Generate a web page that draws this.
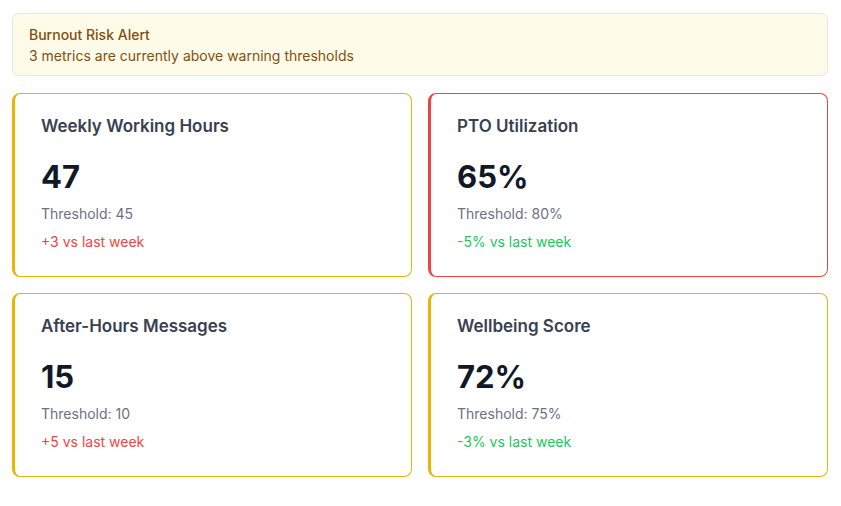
<!DOCTYPE html>
<html><head><meta charset="utf-8">
<script src="https://cdn.jsdelivr.net/npm/chart.js@4"></script>
<style>
*{box-sizing:border-box}
body{margin:0;width:841px;height:506px;background:#fff;font-family:Inter,"Noto Sans",sans-serif;}
.alert{position:absolute;left:12px;top:13px;width:816px;height:63px;background:#fefce8;border:1px solid #e5e7eb;border-radius:6px;padding:10px 16px;color:#854d0e;font-size:14px;line-height:21px}
.alert .t{font-weight:500}
.card{position:absolute;width:400px;height:184px;border:1px solid;border-left-width:3px;border-radius:8px;padding:0 26px;background:#fff}
.card h3{margin:0;position:absolute;top:22px;font-size:17px;font-weight:600;color:#374151}
.card .v{position:absolute;top:64px;font-size:31px;font-weight:700;color:#111827}
.card .th{position:absolute;top:111px;font-size:14px;color:#6b7280}
.card .ch{position:absolute;top:139px;font-size:14px}
</style></head><body>
<div class="alert"><div class="t">Burnout Risk Alert</div><div id="sub"></div></div>
<div id="cards"></div>
<script>
const titles=["Weekly Working Hours","PTO Utilization","After-Hours Messages","Wellbeing Score"];
const values=["47","65%","15","72%"];
const thresholds=["45","80%","10","75%"];
const changes=["+3","-5%","+5","-3%"];
const statuses=["warning","critical","warning","warning"];
const alertCount=3;
document.getElementById('sub').textContent=alertCount+" metrics are currently above warning thresholds";
const pos=[[12,93],[428,93],[12,293],[428,293]];
const border={warning:"#eab308",critical:"#ef4444"};
const c=document.getElementById('cards');
titles.forEach((t,i)=>{
 const d=document.createElement('div');d.className='card';
 d.style.left=pos[i][0]+'px';d.style.top=pos[i][1]+'px';d.style.borderColor=border[statuses[i]];
 const up=changes[i][0]==='+';
 d.innerHTML=`<h3>${t}</h3><div class="v">${values[i]}</div><div class="th">Threshold: ${thresholds[i]}</div><div class="ch" style="color:${up?'#ef4444':'#22c55e'}">${changes[i]} vs last week</div>`;
 c.appendChild(d);
});
</script></body></html>
